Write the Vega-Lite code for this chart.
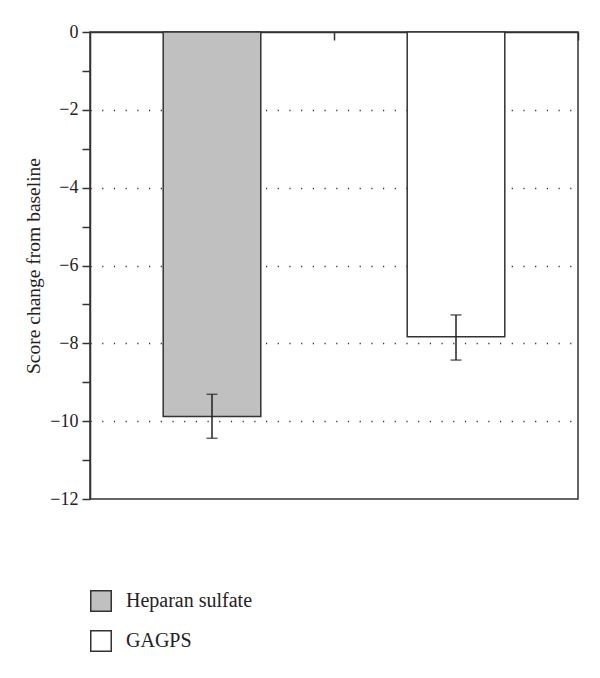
{
  "$schema": "https://vega.github.io/schema/vega-lite/v6.json",
  "autosize": {"type": "none"},
  "padding": {"left": 90, "top": 32, "right": 22, "bottom": 179},
  "width": 488,
  "height": 467,
  "background": "white",
  "config": {
    "view": {"stroke": "#333", "strokeWidth": 1.5},
    "font": "Liberation Serif",
    "axisY": {
      "titleFont": "Liberation Serif",
      "titleFontSize": 19.5,
      "titleFontWeight": "normal",
      "titleColor": "#222",
      "titlePadding": 6,
      "labelOverlap": false,
      "labelFont": "Liberation Serif",
      "labelFontSize": 18,
      "labelColor": "#222",
      "labelPadding": 4,
      "tickSize": 8,
      "tickColor": "#333",
      "tickWidth": 1.5,
      "domainColor": "#333",
      "domainWidth": 1.5,
      "grid": true,
      "gridColor": "#333",
      "gridWidth": 1.5,
      "gridDash": [1.2, 10.5],
      "format": "d"
    }
  },
  "data": {
    "values": [
      {"group": "Heparan sulfate", "mean": -9.88, "lo": -10.44, "hi": -9.31},
      {"group": "GAGPS", "mean": -7.83, "lo": -8.43, "hi": -7.27}
    ]
  },
  "encoding": {
    "x": {
      "field": "group",
      "type": "nominal",
      "sort": null,
      "scale": {"paddingInner": 0.6, "paddingOuter": 0.3},
      "axis": {
        "orient": "top",
        "title": null,
        "labels": false,
        "tickOffset": 122,
        "tickSize": -8,
        "tickColor": "#333",
        "tickWidth": 1.5,
        "domainColor": "#333",
        "domainWidth": 1.5
      }
    }
  },
  "layer": [
    {
      "mark": {"type": "bar", "stroke": "#333", "strokeWidth": 1.5},
      "encoding": {
        "y": {
          "field": "mean",
          "type": "quantitative",
          "scale": {"domain": [-12, 0], "nice": false},
          "axis": {
            "title": "Score change from baseline",
            "format": "d",
            "values": [0, -0.5, -1, -1.5, -2, -2.5, -3, -3.5, -4, -4.5, -5, -5.5, -6, -6.5, -7, -7.5, -8, -8.5, -9, -9.5, -10, -10.5, -11, -11.5, -12],
            "labelExpr": "datum.value % 2 == 0 ? datum.label : ''",
            "gridOpacity": {"condition": {"test": "datum.value % 2 == 0 && datum.value != 0 && datum.value != -12", "value": 1}, "value": 0}
          }
        },
        "fill": {
          "field": "group",
          "type": "nominal",
          "sort": null,
          "scale": {"domain": ["Heparan sulfate", "GAGPS"], "range": ["#c0c0c0", "#ffffff"]},
          "legend": {
            "title": null,
            "orient": "none",
            "legendX": 0,
            "legendY": 558,
            "symbolType": "square",
            "symbolSize": 420,
            "symbolStrokeColor": "#333",
            "symbolStrokeWidth": 1.5,
            "symbolOpacity": 1,
            "labelFont": "Liberation Serif",
            "labelFontSize": 20,
            "labelColor": "#222",
            "labelOffset": 14,
            "rowPadding": 12
          }
        }
      }
    },
    {
      "mark": {"type": "rule", "color": "#222", "strokeWidth": 1.5},
      "encoding": {
        "y": {
          "field": "lo",
          "type": "quantitative",
          "axis": {
            "title": "Score change from baseline",
            "format": "d",
            "values": [0, -0.5, -1, -1.5, -2, -2.5, -3, -3.5, -4, -4.5, -5, -5.5, -6, -6.5, -7, -7.5, -8, -8.5, -9, -9.5, -10, -10.5, -11, -11.5, -12],
            "labelExpr": "datum.value % 2 == 0 ? datum.label : ''",
            "gridOpacity": {"condition": {"test": "datum.value % 2 == 0 && datum.value != 0 && datum.value != -12", "value": 1}, "value": 0}
          }
        },
        "y2": {"field": "hi"}
      }
    },
    {
      "mark": {"type": "tick", "color": "#222", "thickness": 1.5, "size": 11},
      "encoding": {
        "y": {
          "field": "lo",
          "type": "quantitative",
          "axis": {
            "title": "Score change from baseline",
            "format": "d",
            "values": [0, -0.5, -1, -1.5, -2, -2.5, -3, -3.5, -4, -4.5, -5, -5.5, -6, -6.5, -7, -7.5, -8, -8.5, -9, -9.5, -10, -10.5, -11, -11.5, -12],
            "labelExpr": "datum.value % 2 == 0 ? datum.label : ''",
            "gridOpacity": {"condition": {"test": "datum.value % 2 == 0 && datum.value != 0 && datum.value != -12", "value": 1}, "value": 0}
          }
        }
      }
    },
    {
      "mark": {"type": "tick", "color": "#222", "thickness": 1.5, "size": 11},
      "encoding": {
        "y": {
          "field": "hi",
          "type": "quantitative",
          "axis": {
            "title": "Score change from baseline",
            "format": "d",
            "values": [0, -0.5, -1, -1.5, -2, -2.5, -3, -3.5, -4, -4.5, -5, -5.5, -6, -6.5, -7, -7.5, -8, -8.5, -9, -9.5, -10, -10.5, -11, -11.5, -12],
            "labelExpr": "datum.value % 2 == 0 ? datum.label : ''",
            "gridOpacity": {"condition": {"test": "datum.value % 2 == 0 && datum.value != 0 && datum.value != -12", "value": 1}, "value": 0}
          }
        }
      }
    }
  ]
}
